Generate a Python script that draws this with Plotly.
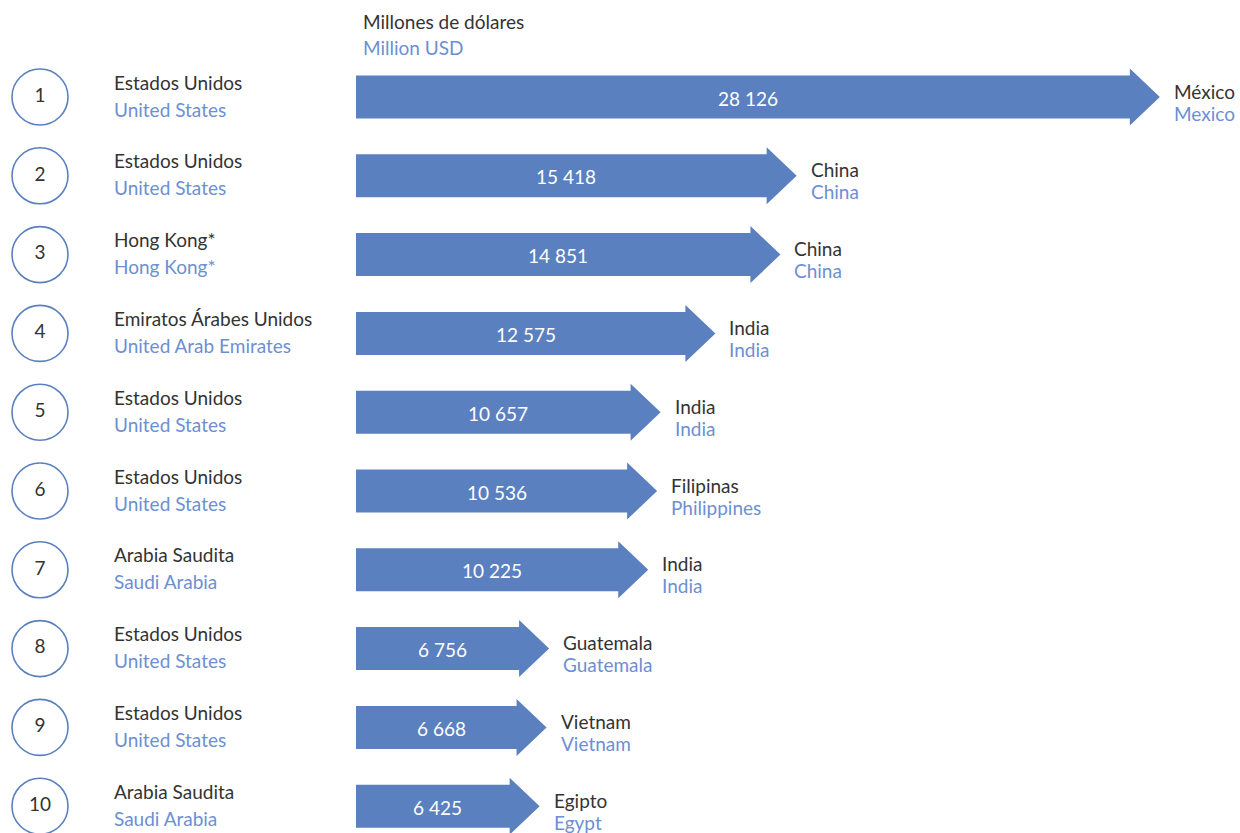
import plotly.graph_objects as go

# ---- data ----
ranks = [1, 2, 3, 4, 5, 6, 7, 8, 9, 10]
origin_es = ["Estados Unidos", "Estados Unidos", "Hong Kong*", "Emiratos Árabes Unidos",
             "Estados Unidos", "Estados Unidos", "Arabia Saudita", "Estados Unidos",
             "Estados Unidos", "Arabia Saudita"]
origin_en = ["United States", "United States", "Hong Kong*", "United Arab Emirates",
             "United States", "United States", "Saudi Arabia", "United States",
             "United States", "Saudi Arabia"]
dest_es = ["México", "China", "China", "India", "India", "Filipinas", "India",
           "Guatemala", "Vietnam", "Egipto"]
dest_en = ["Mexico", "China", "China", "India", "India", "Philippines", "India",
           "Guatemala", "Vietnam", "Egypt"]
values = [28126, 15418, 14851, 12575, 10657, 10536, 10225, 6756, 6668, 6425]
title_es = "Millones de dólares"
title_en = "Million USD"

# ---- style ----
OFF = 0                      # page body margin removed via post_script
W, H = 1240 - OFF, 833 - OFF
BAR = "#5b80bf"
DARK = "#333333"
LIGHT = "#6d8fd3"
FONT = "Lato"
FS = 19
WEIGHT = 400

px_per_unit = 0.02858         # horizontal scale
x_start_px = 356 - OFF        # pixel where value 0 sits
row_gap_px = 78.8
first_row_px = 97 - OFF

x_range = [-x_start_px / px_per_unit, (W - x_start_px) / px_per_unit]
y_top = 1 - first_row_px / row_gap_px
y_bottom = y_top + H / row_gap_px
y_range = [y_bottom, y_top]

head_len = 30 / px_per_unit
body_half = 21.5 / row_gap_px
head_half = 28.5 / row_gap_px


def fmt(v):
    return f"{v:,}".replace(",", " ")


fig = go.Figure()

for r, v in zip(ranks, values):
    xb = v - head_len
    xs = [0, xb, xb, v, xb, xb, 0, 0]
    ys = [r - body_half, r - body_half, r - head_half, r, r + head_half,
          r + body_half, r + body_half, r - body_half]
    fig.add_trace(go.Scatter(x=xs, y=ys, mode="lines", fill="toself",
                             fillcolor=BAR, line=dict(width=0, color=BAR),
                             hoverinfo="skip", showlegend=False))

# circles with rank numbers
circle_x = -(x_start_px - (40 - OFF)) / px_per_unit
fig.add_trace(go.Scatter(
    x=[circle_x] * len(ranks), y=ranks, mode="markers+text",
    marker=dict(size=56, color="white", line=dict(color=BAR, width=1.6)),
    text=[str(r) for r in ranks], textposition="middle center",
    textfont=dict(family=FONT, size=FS, color=DARK, weight=WEIGHT),
    hoverinfo="skip", showlegend=False))

lbl_x = (112 - OFF) / W
ann = []
for r, v, oe, oen, de, den in zip(ranks, values, origin_es, origin_en, dest_es, dest_en):
    # origin labels
    ann.append(dict(x=lbl_x, xref="paper", y=r, yref="y", text=oe, showarrow=False,
                    xanchor="left", yanchor="middle", yshift=15,
                    font=dict(family=FONT, size=FS, color=DARK, weight=WEIGHT)))
    ann.append(dict(x=lbl_x, xref="paper", y=r, yref="y", text=oen, showarrow=False,
                    xanchor="left", yanchor="middle", yshift=-12,
                    font=dict(family=FONT, size=FS, color=LIGHT, weight=WEIGHT)))
    # value labels
    ann.append(dict(x=v / 2, xref="x", y=r, yref="y", text=fmt(v), showarrow=False,
                    xanchor="center", yanchor="middle", xshift=-10, yshift=-1,
                    font=dict(family=FONT, size=FS, color="white", weight=WEIGHT)))
    # destination labels
    ann.append(dict(x=v, xref="x", y=r, yref="y", text=de, showarrow=False,
                    xanchor="left", yanchor="middle", xshift=12, yshift=6,
                    font=dict(family=FONT, size=FS, color=DARK, weight=WEIGHT)))
    ann.append(dict(x=v, xref="x", y=r, yref="y", text=den, showarrow=False,
                    xanchor="left", yanchor="middle", xshift=12, yshift=-16,
                    font=dict(family=FONT, size=FS, color=LIGHT, weight=WEIGHT)))

ann.append(dict(x=(361 - OFF) / W, xref="paper", y=1 - (21 - OFF) / H, yref="paper",
                text=title_es, showarrow=False, xanchor="left", yanchor="middle",
                font=dict(family=FONT, size=FS, color=DARK, weight=WEIGHT)))
ann.append(dict(x=(361 - OFF) / W, xref="paper", y=1 - (48 - OFF) / H, yref="paper",
                text=title_en, showarrow=False, xanchor="left", yanchor="middle",
                font=dict(family=FONT, size=FS, color=LIGHT, weight=WEIGHT)))

fig.update_layout(
    width=W, height=H,
    margin=dict(l=0, r=0, t=0, b=0),
    paper_bgcolor="white", plot_bgcolor="white",
    xaxis=dict(range=x_range, visible=False, fixedrange=True),
    yaxis=dict(range=y_range, visible=False, fixedrange=True),
    annotations=ann,
    showlegend=False,
)

fig.write_html("out.html", config={"displayModeBar": False},
               post_script="document.body.style.margin='0px';"
                           "document.body.style.overflow='hidden';")
